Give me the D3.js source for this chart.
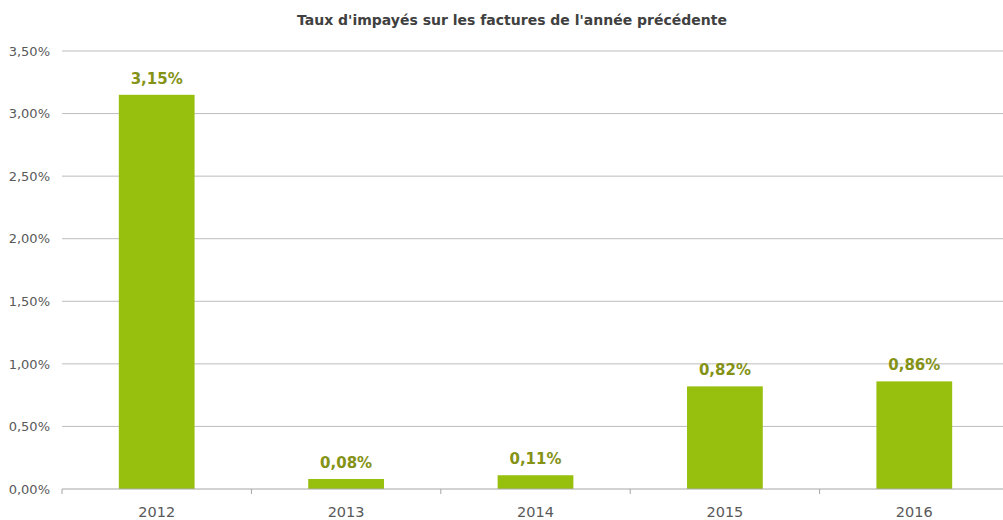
<!DOCTYPE html>
<html>
<head>
<meta charset="utf-8">
<script src="https://cdn.jsdelivr.net/npm/d3@7"></script>
<style>
  body { margin: 0; background: #fff; }
  svg text { font-family: "DejaVu Sans", sans-serif; }
</style>
</head>
<body>
<div id="chart"></div>
<script>
// data
const years = ["2012", "2013", "2014", "2015", "2016"];
const rates = [3.15, 0.08, 0.11, 0.82, 0.86];
const yTicks = [0, 0.5, 1, 1.5, 2, 2.5, 3, 3.5];
const title = "Taux d'impayés sur les factures de l'année précédente";

const W = 1003, H = 520;
const margin = {top: 51, left: 62, bottom: 31, right: -6};
const width = W - margin.left - margin.right;
const height = H - margin.top - margin.bottom;

const svg = d3.select("#chart")
  .append("svg")
  .attr("width", W)
  .attr("height", H);

const g = svg.append("g")
  .attr("transform", `translate(${margin.left}, ${margin.top})`);

const xScale = d3.scaleBand()
  .domain(years)
  .range([0, width])
  .paddingInner(0.6)
  .paddingOuter(0.3);

const yScale = d3.scaleLinear()
  .domain([0, 3.5])
  .range([height, 0]);

const fmt = v => v.toFixed(2).replace(".", ",") + "%";

// gridlines
g.selectAll(".grid")
  .data(yTicks.slice(1))
  .enter()
  .append("line")
  .attr("x1", 0)
  .attr("x2", width)
  .attr("y1", d => yScale(d))
  .attr("y2", d => yScale(d))
  .attr("stroke", "#bdbdbd")
  .attr("stroke-width", 1);

// y axis labels
const yAxis = d3.axisLeft(yScale)
  .tickValues(yTicks)
  .tickFormat(fmt)
  .tickSize(0)
  .tickPadding(12);

g.append("g")
  .call(yAxis)
  .call(s => s.select(".domain").remove())
  .selectAll("text")
  .attr("fill", "#595959")
  .style("font-size", "13px");

// bars
g.selectAll(".bar")
  .data(rates)
  .enter()
  .append("rect")
  .attr("x", (d, i) => xScale(years[i]))
  .attr("width", xScale.bandwidth())
  .attr("y", d => yScale(d))
  .attr("height", d => height - yScale(d))
  .attr("fill", "#97bf0d");

// value labels
g.selectAll(".label")
  .data(rates)
  .enter()
  .append("text")
  .attr("x", (d, i) => xScale(years[i]) + xScale.bandwidth() / 2)
  .attr("y", d => yScale(d) - 11)
  .attr("text-anchor", "middle")
  .attr("fill", "#849216")
  .style("font-size", "15px")
  .style("font-weight", "bold")
  .text(d => fmt(d));

// x axis: baseline with ticks between categories
const xAxisG = g.append("g")
  .attr("transform", `translate(0, ${height})`);

xAxisG.append("line")
  .attr("x1", 0)
  .attr("x2", width)
  .attr("stroke", "#a6a6a6");

const step = xScale.step();
xAxisG.selectAll(".tick-sep")
  .data(d3.range(years.length + 1))
  .enter()
  .append("line")
  .attr("x1", i => i * step)
  .attr("x2", i => i * step)
  .attr("y1", 0)
  .attr("y2", 5)
  .attr("stroke", "#a6a6a6");

xAxisG.selectAll(".xlabel")
  .data(years)
  .enter()
  .append("text")
  .attr("x", d => xScale(d) + xScale.bandwidth() / 2)
  .attr("y", 28)
  .attr("text-anchor", "middle")
  .attr("fill", "#595959")
  .style("font-size", "14.5px")
  .text(d => d);

// title
svg.append("text")
  .attr("x", 512)
  .attr("y", 25)
  .attr("text-anchor", "middle")
  .attr("fill", "#404040")
  .style("font-size", "14px")
  .style("font-weight", "bold")
  .text(title);
</script>
</body>
</html>
